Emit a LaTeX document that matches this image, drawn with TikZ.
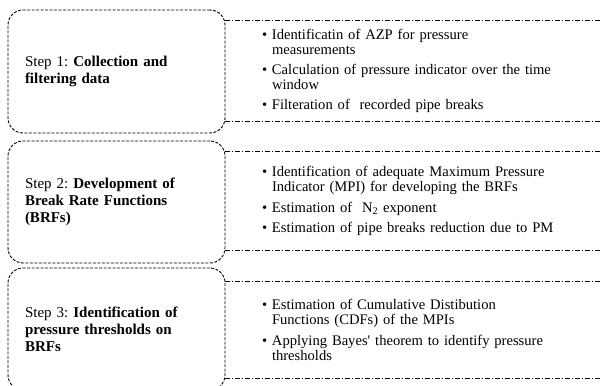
\documentclass[tikz,border=0pt]{standalone}
\usepackage{fontspec}
\setmainfont{Liberation Serif}
\usetikzlibrary{positioning}
\frenchspacing

\tikzstyle{stepbox} = [rectangle, rounded corners=15pt, minimum width=217pt, text width=183pt, align=left, inner xsep=0pt, style={draw=black, line width=0.9pt, dash pattern=on 3pt off 1.5pt}]
\tikzstyle{infobox} = [rectangle, minimum width=376pt, text width=302pt, align=left, inner xsep=0pt]
\tikzstyle{edge} = [draw=black, line width=0.9pt, dash pattern=on 5pt off 2pt on 1pt off 2pt]

\newcommand{\itm}{\makebox[10pt][l]{\textbullet}}
\newcommand{\cnt}{\hspace*{10pt}}

\begin{document}
\begin{tikzpicture}[x=1pt, y=-1pt, font=\fontsize{15}{16.8}\selectfont]
\useasboundingbox (0,0) rectangle (604,385);
\clip (0,0) rectangle (604,385);

% Step boxes
	\node[stepbox, minimum height=123pt] at (116.5,71.5) (step1) {Step 1: \textbf{Collection and}\\\textbf{filtering data}};
	\node[stepbox, minimum height=122pt] at (116.5,202) (step2) {Step 2: \textbf{Development of}\\\textbf{Break Rate Functions}\\\textbf{(BRFs)}};
	\node[stepbox, minimum height=122pt] at (116.5,329) (step3) {Step 3: \textbf{Identification of}\\\textbf{pressure thresholds on}\\\textbf{BRFs}};

% Task lists
	\node[infobox, minimum height=100pt, font=\fontsize{14.6}{15.2}\selectfont] at (413,71) (info1) {\itm Identificatin of AZP for pressure\\\cnt measurements\\[5pt]\itm Calculation of pressure indicator over the time\\\cnt window\\[5pt]\itm Filteration of \ recorded pipe breaks};
	\node[infobox, minimum height=98pt, font=\fontsize{14.6}{15.2}\selectfont] at (413,201) (info2) {\itm Identification of adequate Maximum Pressure\\\cnt Indicator (MPI) for developing the BRFs\\[5pt]\itm Estimation of \ N\textsubscript{2} exponent\\[5pt]\itm Estimation of pipe breaks reduction due to PM};
	\node[infobox, minimum height=96pt, font=\fontsize{14.6}{15.2}\selectfont] at (413,330) (info3) {\itm Estimation of Cumulative Distibution\\\cnt Functions (CDFs) of the MPIs\\[5pt]\itm Applying Bayes\textquotesingle{} theorem to identify pressure\\\cnt thresholds};

% Borders of task lists
	\draw[edge] (info1.north west) -- (info1.north east);
	\draw[edge] (info1.south west) -- (info1.south east);
	\draw[edge] (info2.north west) -- (info2.north east);
	\draw[edge] (info2.south west) -- (info2.south east);
	\draw[edge] (info3.north west) -- (info3.north east);
	\draw[edge] (info3.south west) -- (info3.south east);

\end{tikzpicture}
\end{document}
